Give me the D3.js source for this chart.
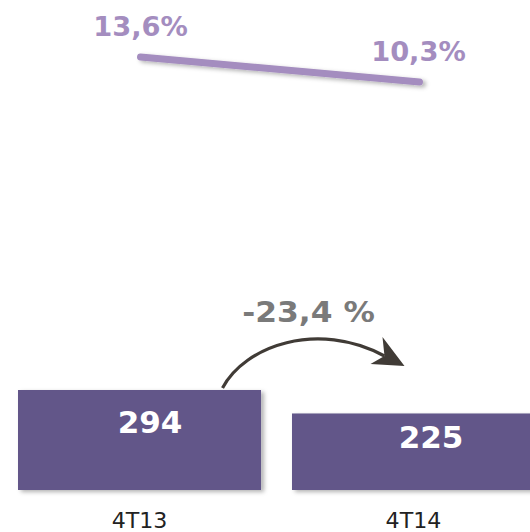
<!DOCTYPE html>
<html>
<head>
<meta charset="utf-8">
<script src="https://cdn.jsdelivr.net/npm/d3@7"></script>
<style>
  html, body { margin: 0; padding: 0; background: #fff; }
  svg { display: block; }
  text { font-family: "DejaVu Sans", Verdana, sans-serif; }
</style>
</head>
<body>
<svg id="chart" width="530" height="532"></svg>
<script>
// ---- data ----
const categories = ["4T13", "4T14"];
const barValues = [294, 225];
const marginValues = [13.6, 10.3];
const marginLabels = ["13,6%", "10,3%"];
const barLabels = ["294", "225"];
const changeLabel = "-23,4 %";

// ---- setup ----
const svg = d3.select("#chart");
const defs = svg.append("defs");
const sh = defs.append("filter").attr("id", "shadow")
  .attr("x", "-10%").attr("y", "-30%").attr("width", "130%").attr("height", "180%");
sh.append("feDropShadow").attr("dx", 3).attr("dy", 2).attr("stdDeviation", 2)
  .attr("flood-color", "#000").attr("flood-opacity", 0.3);

const x = d3.scaleBand().domain(categories)
  .range([2.5, 550.5]).paddingInner(0.113).paddingOuter(0.0566);
const y = d3.scaleLinear().domain([0, 294]).range([490, 390]);
const y2 = d3.scaleLinear().domain([10.3, 13.6]).range([82, 57]);
const cx = c => x(c) + x.bandwidth() / 2;

// bars
svg.append("g").selectAll("rect").data(barValues).join("rect")
  .attr("x", (d, i) => x(categories[i]))
  .attr("y", d => y(d))
  .attr("width", x.bandwidth())
  .attr("height", d => y(0) - y(d))
  .attr("fill", "#625689")
  .attr("filter", "url(#shadow)");

// bar value labels
const labDx = [10.5, 17.5], labDy = [43, 35];
svg.append("g").selectAll("text").data(barValues).join("text")
  .attr("x", (d, i) => cx(categories[i]) + labDx[i])
  .attr("y", (d, i) => y(d) + labDy[i])
  .attr("text-anchor", "middle")
  .attr("font-size", 31).attr("font-weight", "bold").attr("fill", "#fff")
  .text((d, i) => barLabels[i]);

// category labels
svg.append("g").selectAll("text").data(categories).join("text")
  .attr("transform", d => `translate(${cx(d)},528) scale(1.08,1)`)
  .attr("text-anchor", "middle")
  .attr("font-size", 20.5).attr("fill", "#222")
  .text(d => d);

// margin line
const line = d3.line()
  .x((d, i) => cx(categories[i]) + (i === 0 ? 1 : 6))
  .y(d => y2(d));
svg.append("path").datum(marginValues)
  .attr("d", line)
  .attr("fill", "none").attr("stroke", "#a48dbf")
  .attr("stroke-width", 7).attr("stroke-linecap", "round")
  .attr("filter", "url(#shadow)");

// margin labels
svg.append("g").selectAll("text").data(marginValues).join("text")
  .attr("transform", (d, i) => `translate(${cx(categories[i]) + (i === 0 ? 1 : 5)},${y2(d) - 21}) scale(1.05,1)`)
  .attr("text-anchor", "middle")
  .attr("font-size", 26).attr("font-weight", "bold").attr("fill", "#a48dbf")
  .text((d, i) => marginLabels[i]);

// change arrow
const x0 = cx(categories[0]);
const x1 = cx(categories[1]);
const top0 = y(barValues[0]);
const sx = x0 + 83, sy = top0 - 2;
const ex = x1 - 29, ey = top0 - 34;
svg.append("path")
  .attr("d", `M${sx},${sy} C${sx + 22},${sy - 42} ${sx + 95},${sy - 68} ${ex},${ey}`)
  .attr("fill", "none").attr("stroke", "#403b36").attr("stroke-width", 3.2);
svg.append("path")
  .attr("d", `M${ex - 2},${ey - 19} L${ex + 20},${ey + 10} L${ex - 14},${ey + 8} L${ex},${ey} Z`)
  .attr("fill", "#403b36");

// change label
svg.append("text")
  .attr("transform", `translate(${(x0 + x1) / 2 + 32},322) scale(1.12,1)`)
  .attr("text-anchor", "middle")
  .attr("font-size", 28).attr("font-weight", "bold").attr("fill", "#7a7a7a")
  .text(changeLabel);
</script>
</body>
</html>
